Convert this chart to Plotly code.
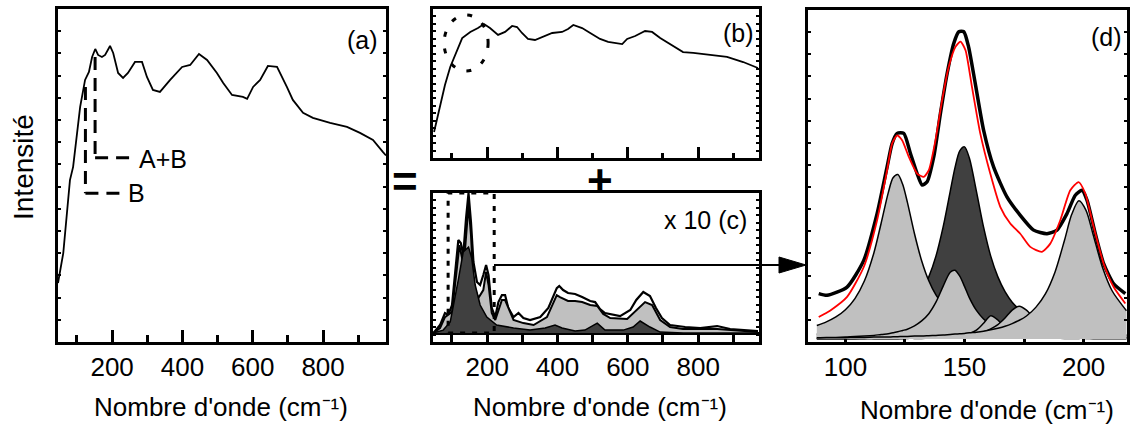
import plotly.graph_objects as go

W, H = 1134, 430
FONT = "Liberation Sans, Arial, sans-serif"

# ---------------- (a) measured spectrum ----------------
a_wn = [46, 61, 80, 89, 109, 123, 134, 143, 152, 160, 171, 180, 194, 203, 217, 231, 245,
        265, 285, 299, 316, 336, 365, 399, 422, 447, 470, 498, 516, 541, 572, 584, 601,
        621, 643, 669, 697, 714, 743, 771, 820, 868, 905, 942, 970, 979]
a_int = [0.177, 0.267, 0.486, 0.526, 0.706, 0.787, 0.811, 0.856, 0.880, 0.862, 0.856,
         0.862, 0.889, 0.868, 0.808, 0.793, 0.808, 0.841, 0.841, 0.796, 0.757, 0.751,
         0.787, 0.826, 0.832, 0.865, 0.847, 0.808, 0.778, 0.742, 0.736, 0.730, 0.766,
         0.787, 0.829, 0.826, 0.766, 0.727, 0.688, 0.673, 0.658, 0.646, 0.628, 0.607,
         0.571, 0.560]

# dashed markers in (a): (wavenumber, top, bottom, end of horizontal dash)
mark_ab = (151.5, 0.856, 0.553, 259.6)
mark_b = (124.0, 0.766, 0.447, 231.0)

# ---------------- (b) broad background ----------------
b_wn = [49, 66, 80, 95, 115, 129, 152, 174, 191, 208, 231, 251, 271, 285, 299, 316, 336,
        359, 385, 413, 430, 445, 470, 493, 521, 544, 570, 584, 598, 621, 649, 669, 692,
        715, 740, 757, 786, 834, 882, 928, 970]
b_int = [0.174, 0.342, 0.490, 0.611, 0.732, 0.805, 0.846, 0.872, 0.899, 0.872, 0.826,
         0.846, 0.886, 0.879, 0.839, 0.799, 0.792, 0.812, 0.839, 0.846, 0.866, 0.893,
         0.872, 0.839, 0.799, 0.779, 0.772, 0.765, 0.799, 0.819, 0.852, 0.846, 0.805,
         0.772, 0.738, 0.711, 0.705, 0.691, 0.678, 0.644, 0.604]
b_circle = (77.6, 202.7, 0.584, 0.96)

# ---------------- (c) sharp contributions (x 10) ----------------
c_top_wn = [47, 66, 80, 90, 100, 109, 118, 125, 132, 140, 147, 154, 161, 171, 180, 189,
            197, 204, 213, 223, 232, 242, 251, 260, 275, 289, 303, 322, 351, 374, 398,
            405, 416, 430, 450, 470, 493, 507, 521, 535, 578, 607, 624, 644, 663, 680,
            697, 720, 763, 806, 854, 891, 970]
c_top = [0.0, 0.057, 0.143, 0.129, 0.200, 0.436, 0.664, 0.643, 0.557, 0.821, 1.0, 0.793,
         0.507, 0.364, 0.343, 0.414, 0.486, 0.414, 0.179, 0.114, 0.221, 0.271, 0.271,
         0.179, 0.114, 0.143, 0.107, 0.093, 0.114, 0.179, 0.321, 0.336, 0.307, 0.286,
         0.279, 0.257, 0.229, 0.221, 0.171, 0.143, 0.121, 0.164, 0.236, 0.293, 0.264,
         0.179, 0.107, 0.057, 0.043, 0.036, 0.050, 0.029, 0.014]

c_light_wn = [47, 66, 80, 100, 114, 121, 131, 137, 147, 154, 161, 175, 189, 197, 204,
              213, 223, 242, 251, 275, 303, 332, 370, 398, 407, 430, 450, 470, 493, 513,
              530, 550, 598, 624, 649, 669, 692, 720, 757, 854, 948, 970]
c_light = [0.0, 0.036, 0.114, 0.150, 0.464, 0.628, 0.507, 0.593, 0.914, 0.700, 0.343,
           0.250, 0.307, 0.436, 0.343, 0.143, 0.093, 0.236, 0.236, 0.093, 0.071, 0.057,
           0.114, 0.271, 0.257, 0.229, 0.229, 0.221, 0.200, 0.193, 0.136, 0.107, 0.100,
           0.164, 0.221, 0.200, 0.093, 0.043, 0.029, 0.029, 0.014, 0.007]

c_dark_wn = [46, 75, 95, 109, 118, 132, 147, 156, 166, 180, 199, 227, 275, 322, 365, 393,
             413, 450, 478, 513, 535, 587, 615, 635, 663, 692, 757, 970]
c_dark = [0.0, 0.021, 0.079, 0.250, 0.379, 0.579, 0.614, 0.536, 0.343, 0.200, 0.114,
          0.057, 0.036, 0.021, 0.036, 0.057, 0.036, 0.014, 0.021, 0.071, 0.021, 0.021,
          0.043, 0.086, 0.043, 0.007, 0.0, 0.0]

zoom_window = (89, 220)

# ---------------- (d) decomposition 85-218 cm-1 ----------------
d_wn = [88, 92, 96, 100, 104, 108, 112, 115, 118, 120, 122, 124, 126, 129, 132, 135, 138,
        141, 144, 146, 148, 150, 152, 155, 158, 161, 164, 167, 170, 173, 176, 180, 184,
        188, 192, 195, 198, 201, 204, 208, 212, 218]
d_dark150 = [0.015, 0.017, 0.020, 0.023, 0.027, 0.032, 0.039, 0.045, 0.054, 0.060, 0.068,
             0.078, 0.090, 0.112, 0.144, 0.189, 0.252, 0.340, 0.449, 0.521, 0.572, 0.584,
             0.551, 0.449, 0.340, 0.252, 0.189, 0.144, 0.112, 0.090, 0.073, 0.057, 0.045,
             0.037, 0.031, 0.027, 0.024, 0.021, 0.019, 0.017, 0.015, 0.012]
d_p122 = [0.041, 0.052, 0.067, 0.089, 0.123, 0.177, 0.263, 0.352, 0.445, 0.490, 0.500,
          0.471, 0.416, 0.320, 0.238, 0.177, 0.134, 0.104, 0.083, 0.071, 0.062, 0.055,
          0.049, 0.041, 0.035, 0.030, 0.026, 0.023, 0.020, 0.018, 0.016, 0.014, 0.013,
          0.011, 0.010, 0.009, 0.008, 0.008, 0.007, 0.007, 0.006, 0.005]
d_p145 = [0.004, 0.005, 0.005, 0.006, 0.008, 0.009, 0.011, 0.014, 0.016, 0.019, 0.022,
          0.026, 0.030, 0.040, 0.055, 0.077, 0.112, 0.160, 0.203, 0.209, 0.191, 0.160,
          0.126, 0.087, 0.061, 0.044, 0.033, 0.026, 0.020, 0.016, 0.014, 0.011, 0.009,
          0.007, 0.006, 0.005, 0.005, 0.004, 0.004, 0.003, 0.003, 0.003]
d_p162 = [0.001, 0.001, 0.001, 0.001, 0.001, 0.001, 0.001, 0.001, 0.001, 0.001, 0.001,
          0.001, 0.002, 0.002, 0.002, 0.003, 0.003, 0.004, 0.005, 0.007, 0.009, 0.011,
          0.016, 0.027, 0.048, 0.071, 0.058, 0.033, 0.019, 0.011, 0.008, 0.005, 0.003,
          0.003, 0.002, 0.002, 0.002, 0.002, 0.001, 0.001, 0.001, 0.001]
d_p172 = [0.001, 0.001, 0.001, 0.001, 0.001, 0.002, 0.002, 0.002, 0.002, 0.002, 0.002,
          0.003, 0.003, 0.003, 0.004, 0.004, 0.005, 0.006, 0.007, 0.008, 0.009, 0.011,
          0.013, 0.017, 0.022, 0.031, 0.044, 0.064, 0.088, 0.100, 0.088, 0.057, 0.035,
          0.022, 0.015, 0.012, 0.009, 0.007, 0.006, 0.005, 0.004, 0.003]
d_p198 = [0.003, 0.004, 0.004, 0.004, 0.005, 0.005, 0.006, 0.006, 0.006, 0.007, 0.007,
          0.008, 0.008, 0.009, 0.009, 0.010, 0.011, 0.012, 0.014, 0.015, 0.016, 0.017,
          0.019, 0.021, 0.024, 0.028, 0.033, 0.039, 0.047, 0.057, 0.070, 0.097, 0.138,
          0.204, 0.301, 0.379, 0.420, 0.391, 0.317, 0.216, 0.146, 0.086]

d_meas_wn = [88.8, 92.3, 100.7, 107.7, 113.3, 117.5, 119.6, 121.7, 124.5, 127.3, 130.1,
             132.2, 134.3, 137.1, 139.9, 142.7, 145.5, 147.6, 149.7, 151.7, 154.5, 158.0,
             162.2, 167.8, 173.4, 179.0, 184.6, 188.8, 193.0, 196.5, 199.3, 201.4, 204.9,
             208.4, 212.6, 217.5]
d_meas = [0.138, 0.133, 0.158, 0.239, 0.381, 0.523, 0.594, 0.625, 0.625, 0.564, 0.503,
          0.468, 0.478, 0.554, 0.686, 0.807, 0.899, 0.934, 0.934, 0.888, 0.777, 0.635,
          0.523, 0.432, 0.376, 0.331, 0.320, 0.331, 0.381, 0.437, 0.452, 0.422, 0.320,
          0.229, 0.168, 0.138]

d_fit_wn = [88.8, 93.7, 100.7, 107.7, 113.3, 117.5, 119.6, 121.7, 123.8, 126.6, 130.1,
            132.9, 135.0, 137.8, 140.6, 143.4, 146.2, 148.3, 150.4, 153.1, 156.6, 160.8,
            165.0, 169.2, 173.4, 177.6, 182.5, 186.0, 190.2, 194.4, 197.9, 200.7, 204.2,
            208.4, 212.6, 217.5]
d_fit = [0.067, 0.087, 0.128, 0.219, 0.361, 0.513, 0.594, 0.619, 0.604, 0.554, 0.503,
         0.493, 0.513, 0.604, 0.726, 0.828, 0.888, 0.904, 0.878, 0.767, 0.625, 0.503,
         0.402, 0.351, 0.320, 0.280, 0.265, 0.290, 0.361, 0.452, 0.477, 0.442, 0.341,
         0.229, 0.158, 0.108]

LIGHT = "#c0c0c0"
DARK = "#404040"


def px(x, y):
    """Pixel position on the canvas -> paper coordinates."""
    return x / W, 1 - y / H


fig = go.Figure()

# (a)
fig.add_trace(go.Scatter(x=a_wn, y=a_int, xaxis="x", yaxis="y", mode="lines",
                         line=dict(color="black", width=1.8)))
# (b)
fig.add_trace(go.Scatter(x=b_wn, y=b_int, xaxis="x2", yaxis="y2", mode="lines",
                         line=dict(color="black", width=1.8)))
# (c): total, first contribution, second contribution
fig.add_trace(go.Scatter(x=c_top_wn, y=c_top, xaxis="x3", yaxis="y3", mode="lines",
                         line=dict(color="black", width=2.2)))
fig.add_trace(go.Scatter(x=c_light_wn, y=c_light, xaxis="x3", yaxis="y3", mode="lines",
                         fill="tozeroy", fillcolor=LIGHT,
                         line=dict(color="black", width=2)))
fig.add_trace(go.Scatter(x=c_dark_wn, y=c_dark, xaxis="x3", yaxis="y3", mode="lines",
                         fill="tozeroy", fillcolor=DARK,
                         line=dict(color="black", width=1.5)))
# (d): components
for comp, col in [(d_dark150, DARK), (d_p122, LIGHT), (d_p145, LIGHT),
                  (d_p162, LIGHT), (d_p172, LIGHT), (d_p198, LIGHT)]:
    fig.add_trace(go.Scatter(x=d_wn, y=comp, xaxis="x4", yaxis="y4", mode="lines",
                             fill="tozeroy", fillcolor=col,
                             line=dict(color="black", width=1.5, shape="spline",
                                       smoothing=0.8)))
fig.add_trace(go.Scatter(x=d_meas_wn, y=d_meas, xaxis="x4", yaxis="y4", mode="lines",
                         line=dict(color="black", width=3.5, shape="spline",
                                   smoothing=0.6)))
fig.add_trace(go.Scatter(x=d_fit_wn, y=d_fit, xaxis="x4", yaxis="y4", mode="lines",
                         line=dict(color="red", width=1.8, shape="spline",
                                   smoothing=0.6)))

tickfont = dict(family=FONT, size=26, color="black")


def xax(domain, rng, anchor, labels=True, major=200, minor=100, mlen=12, nlen=7,
        layer="above traces"):
    return dict(domain=domain, range=rng, anchor=anchor, showgrid=False, zeroline=False,
                showline=True, linewidth=3, linecolor="black", mirror=True,
                ticks="inside", ticklen=mlen, tickwidth=2.5, tickcolor="black",
                tick0=0, dtick=major, showticklabels=labels, tickfont=tickfont,
                ticklabelstandoff=0, layer=layer,
                minor=dict(dtick=minor, tick0=0, ticks="inside", ticklen=nlen,
                           tickwidth=2.5, tickcolor="black"))


def yax(domain, rng, anchor, dtick, zeroline=False):
    return dict(domain=domain, range=rng, anchor=anchor, showgrid=False,
                zeroline=zeroline, zerolinecolor="black", zerolinewidth=2.5,
                showline=True, linewidth=3, linecolor="black", mirror="ticks",
                ticks="inside", ticklen=3, tickwidth=2, tickcolor="black",
                tick0=rng[0], dtick=dtick, showticklabels=False)


xa = px(58, 0)[0], px(386, 0)[0]
xb = px(433, 0)[0], px(759, 0)[0]
xd = px(808, 0)[0], px(1127, 0)[0]
ya = px(0, 342)[1], px(0, 9)[1]
yb = px(0, 158)[1], px(0, 9)[1]
yc = px(0, 342)[1], px(0, 193)[1]
yd = px(0, 342)[1], px(0, 10)[1]

shapes = []
dash_ab = dict(color="black", width=3, dash="13px,8px")
for wn, top, bot, end in (mark_ab, mark_b):
    shapes.append(dict(type="line", xref="x", yref="y", x0=wn, x1=wn, y0=top, y1=bot,
                       line=dash_ab))
    shapes.append(dict(type="line", xref="x", yref="y", x0=wn, x1=end, y0=bot, y1=bot,
                       line=dash_ab))
shapes.append(dict(type="circle", xref="x2", yref="y2", x0=b_circle[0], x1=b_circle[1],
                   y0=b_circle[2], y1=b_circle[3],
                   line=dict(color="black", width=3, dash="5px,12px")))
shapes.append(dict(type="rect", xref="x3", yref="y3", x0=zoom_window[0],
                   x1=zoom_window[1], y0=0, y1=1.0,
                   line=dict(color="black", width=3, dash="5px,7px")))
# arrow from the zoom window to panel (d)
x0, y0 = px(494, 265)
x1, _ = px(785, 265)
shapes.append(dict(type="line", xref="paper", yref="paper", x0=x0, x1=x1, y0=y0, y1=y0,
                   line=dict(color="black", width=2.2)))
t1 = px(779, 257)
t2 = px(806, 265)
t3 = px(779, 273)
shapes.append(dict(type="path", xref="paper", yref="paper",
                   path=f"M{t1[0]},{t1[1]} L{t2[0]},{t2[1]} L{t3[0]},{t3[1]} Z",
                   fillcolor="black", line=dict(color="black", width=1)))

annotations = []


def text(x, y, s, size=25, xanchor="center", bold=False, angle=0):
    pxx, pyy = px(x, y)
    annotations.append(dict(x=pxx, y=pyy, xref="paper", yref="paper", text=s,
                            showarrow=False, xanchor=xanchor, yanchor="middle",
                            textangle=angle,
                            font=dict(family=FONT, size=size, color="black",
                                      weight="bold" if bold else "normal")))


title = "Nombre d'onde (cm\u207b\u00b9)"
text(362, 40, "(a)")
text(738, 33, "(b)")
text(705, 220, "x 10 (c)")
text(1106, 37, "(d)")
text(137, 159, "A+B", xanchor="left")
text(126, 193, "B", xanchor="left")
text(405, 182, "=", size=44, bold=True)
text(600, 180, "+", size=44, bold=True)
text(23, 167, "Intensité", size=28, angle=-90)
text(221, 407, title, size=26)
text(600, 407, title, size=26)
text(987, 410, title, size=26)

fig.update_layout(
    width=W, height=H, margin=dict(l=0, r=0, t=0, b=0),
    paper_bgcolor="white", plot_bgcolor="rgba(0,0,0,0)", showlegend=False,
    xaxis=xax(xa, [46, 979], "y"),
    yaxis=yax(ya, [0, 1], "x", 1 / 15),
    xaxis2=xax(xb, [46, 973], "y2", labels=False, mlen=11, nlen=5),
    yaxis2=yax(yb, [0, 1], "x2", 0.05),
    xaxis3=xax(xb, [46, 973], "y3", mlen=8, nlen=8),
    yaxis3=yax(yc, [-0.064, 1.0], "x3", 1.064 / 20, zeroline=True),
    xaxis4=xax(xd, [84.3, 218.2], "y4", major=50, minor=25, mlen=10, nlen=6,
               layer="below traces"),
    yaxis4=yax(yd, [-0.009, 1.0], "x4", 1.009 / 15),
    shapes=shapes, annotations=annotations,
)

fig.write_html("out.html")
